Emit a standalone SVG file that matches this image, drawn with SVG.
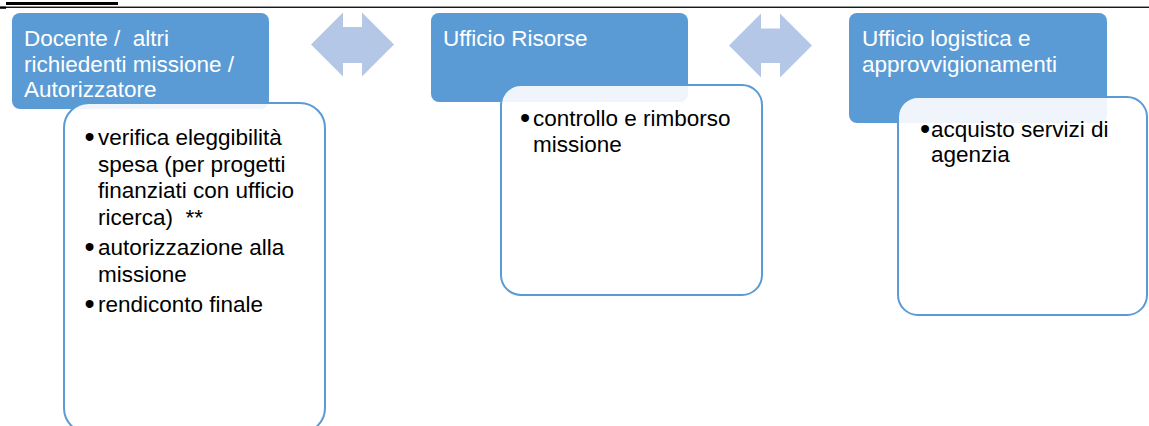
<svg xmlns="http://www.w3.org/2000/svg" width="1149" height="426" viewBox="0 0 1149 426">
  <style>
    .hdr { fill: #5B9BD5; }
    .body { fill: #FFFFFF; fill-opacity: 0.9; stroke: #5B9BD5; stroke-width: 2; }
    .ht { font-family: "Liberation Sans", Arial, sans-serif; font-size: 22.5px; fill: #FFFFFF; }
    .bt { font-family: "Liberation Sans", Arial, sans-serif; font-size: 22.5px; fill: #000000; }
    .bl { font-family: "Liberation Sans", Arial, sans-serif; font-size: 29px; fill: #000000; }
    .arrow { fill: #B4C7E7; }
  </style>
  <rect x="0" y="0" width="1149" height="426" fill="#FFFFFF"/>
  <g id="page-rule">
    <rect x="6" y="2" width="112" height="3" fill="#000000"/>
    <rect x="0" y="6.6" width="1149" height="1.3" fill="#000000"/>
    <rect x="0" y="6.6" width="6" height="2.2" fill="#000000"/>
  </g>
  <g id="connectors">
    <polygon class="arrow" points="311,44.5 343,12.5 343,27 362,27 362,12.5 394,44.5 362,76.5 362,63 343,63 343,76.5"/>
    <polygon class="arrow" points="729,45.5 761,13.5 761,28.5 780,28.5 780,13.5 812,45.5 780,77.5 780,63 761,63 761,77.5"/>
  </g>
  <g id="node-docente">
    <rect class="hdr" x="12" y="13" width="257" height="96" rx="8"/>
    <text class="ht" x="24" y="46" xml:space="preserve">Docente /  altri</text>
    <text class="ht" x="24" y="71.5">richiedenti missione /</text>
    <text class="ht" x="24" y="97">Autorizzatore</text>
    <rect class="body" x="64" y="103" width="261" height="330" rx="25"/>
    <text class="bl" x="84.5" y="147">•</text>
    <text class="bt" x="98" y="145">verifica eleggibilità</text>
    <text class="bt" x="98" y="171.5">spesa (per progetti</text>
    <text class="bt" x="98" y="198">finanziati con ufficio</text>
    <text class="bt" x="98" y="224.5" xml:space="preserve">ricerca)  **</text>
    <text class="bl" x="84.5" y="257">•</text>
    <text class="bt" x="98" y="255">autorizzazione alla</text>
    <text class="bt" x="98" y="281.5">missione</text>
    <text class="bl" x="84.5" y="314">•</text>
    <text class="bt" x="98" y="312">rendiconto finale</text>
  </g>
  <g id="node-risorse">
    <rect class="hdr" x="431" y="13" width="257" height="89" rx="8"/>
    <text class="ht" x="443" y="46">Ufficio Risorse</text>
    <rect class="body" x="501" y="85" width="261" height="210" rx="20"/>
    <text class="bl" x="520" y="128">•</text>
    <text class="bt" x="533" y="126">controllo e rimborso</text>
    <text class="bt" x="533" y="152">missione</text>
  </g>
  <g id="node-logistica">
    <rect class="hdr" x="849" y="13" width="258" height="110" rx="8"/>
    <text class="ht" x="862" y="46">Ufficio logistica e</text>
    <text class="ht" x="862" y="72">approvvigionamenti</text>
    <rect class="body" x="898" y="97" width="249" height="218" rx="20"/>
    <text class="bl" x="920" y="139">•</text>
    <text class="bt" x="931" y="137">acquisto servizi di</text>
    <text class="bt" x="931" y="162">agenzia</text>
  </g>
</svg>
